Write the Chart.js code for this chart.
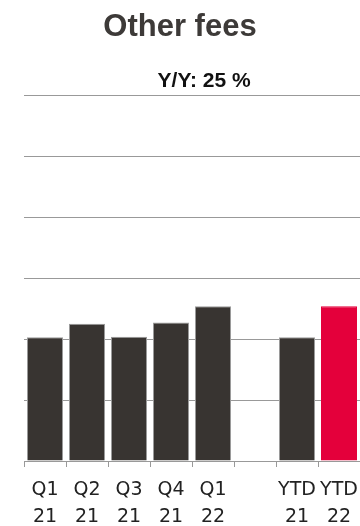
<!DOCTYPE html>
<html>
<head>
<meta charset="utf-8">
<script src="https://cdn.jsdelivr.net/npm/chart.js@4.4.1/dist/chart.umd.min.js"></script>
<style>
  html, body { margin: 0; padding: 0; background: #fff; }
  #wrap { width: 360px; height: 526px; }
</style>
</head>
<body>
<div id="wrap"><canvas id="myChart"></canvas></div>
<script>
// quarterly fees, last slot before YTD left empty as a spacer
const categories = [['Q1', '21'], ['Q2', '21'], ['Q3', '21'], ['Q4', '21'], ['Q1', '22'], '', ['YTD', '21'], ['YTD', '22']];
const fees = [20.3, 22.5, 20.4, 22.7, 25.4, null, 20.3, 25.4];
const barColors = ['#383431', '#383431', '#383431', '#383431', '#383431', '#383431', '#383431', '#e4003b'];
const edgeColors = ['#9a9a9a', '#9a9a9a', '#9a9a9a', '#9a9a9a', '#9a9a9a', '#9a9a9a', '#9a9a9a', '#e4003b'];
const growthLabel = 'Y/Y: 25 %';

const LABEL_FONT = '"DejaVu Sans", sans-serif';
const HEAD_FONT = '"Liberation Sans", Arial, sans-serif';

// draws the growth note just above the plot
const growthNote = {
  id: 'growthNote',
  afterDraw(chart) {
    const { ctx, chartArea } = chart;
    ctx.save();
    ctx.font = 'bold 21px ' + HEAD_FONT;
    ctx.fillStyle = '#111';
    ctx.textAlign = 'center';
    ctx.textBaseline = 'alphabetic';
    ctx.fillText(growthLabel, chartArea.left + chartArea.width * 0.536, chartArea.top - 8);
    ctx.restore();
  }
};

function createChart() {
  const ctx = document.getElementById('myChart').getContext('2d');

  const myChart = new Chart(ctx, {
    type: 'bar',
    data: {
      labels: categories,
      datasets: [{
        data: fees,
        backgroundColor: barColors,
        borderColor: edgeColors,
        borderWidth: 1,
        barPercentage: 0.857,
        categoryPercentage: 1
      }]
    },
    options: {
      responsive: true,
      maintainAspectRatio: false,
      animation: false,
      layout: { padding: 0 },
      plugins: {
        legend: { display: false },
        tooltip: { enabled: false },
        title: {
          display: true,
          text: 'Other fees',
          color: '#3d3a38',
          font: { family: HEAD_FONT, size: 31, weight: 'bold' },
          padding: { top: 9, bottom: 49 }
        }
      },
      scales: {
        x: {
          grid: {
            drawOnChartArea: false,
            drawTicks: true,
            tickLength: 6,
            color: '#999'
          },
          border: { color: '#999', width: 1 },
          ticks: {
            color: '#222',
            font: { family: LABEL_FONT, size: 19, lineHeight: 1.4 },
            padding: 10,
            maxRotation: 0,
            autoSkip: false
          },
          // let the plot run to the right edge and keep the label band fixed
          afterFit(scale) {
            scale.paddingLeft = 0;
            scale.paddingRight = 0;
            scale.height = 65;
          }
        },
        y: {
          min: 0,
          max: 60,
          ticks: { display: false, stepSize: 10 },
          grid: { color: '#999', drawTicks: false },
          border: { display: false },
          afterFit(scale) {
            scale.width = 24;
          }
        }
      }
    },
    plugins: [growthNote]
  });
}

window.onload = createChart;
</script>
</body>
</html>
